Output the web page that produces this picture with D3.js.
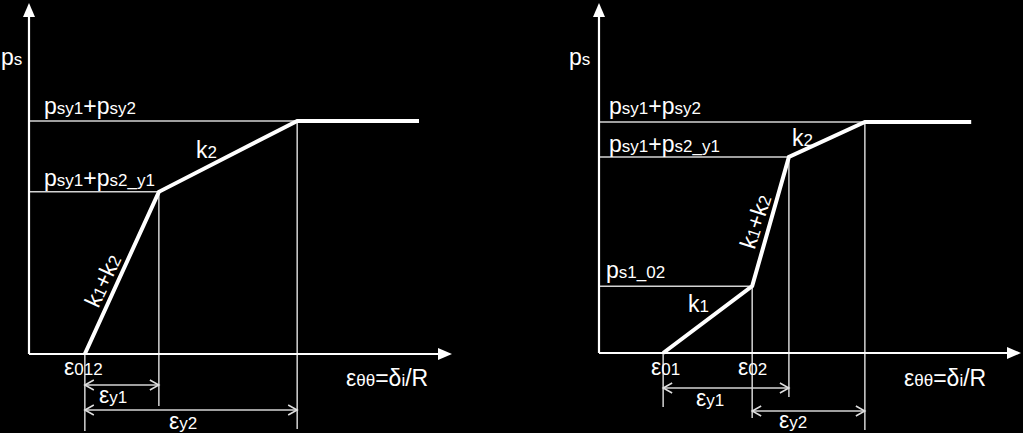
<!DOCTYPE html>
<html>
<head>
<meta charset="utf-8">
<script src="https://cdn.jsdelivr.net/npm/d3@7"></script>
<style>
  html, body { margin: 0; padding: 0; background: #000; }
  svg { display: block; }
  text { fill: #fff; font-family: "Liberation Sans", Arial, sans-serif; }
</style>
</head>
<body>
<svg width="1023" height="433"></svg>
<script>
// strain / stress points of each panel (units: % of axis length)
var leftStrain  = [13.2, 30.7, 63.4, 92.2];
var leftStress  = [0, 46.2, 66.4, 66.4];
var rightStrain = [15.2, 36.3, 45.0, 63.0, 88.2];
var rightStress = [0, 19.1, 56.0, 66.0, 66.0];

// labels, split in [text, isSubscript] pieces
var lblPs     = [["p",0],["s",1]];
var lblTop    = [["p",0],["sy1",1],["+",0],["p",0],["sy2",1]];
var lblMid    = [["p",0],["sy1",1],["+",0],["p",0],["s2_y1",1]];
var lblP102   = [["p",0],["s1_02",1]];
var lblK1     = [["k",0],["1",1]];
var lblK2     = [["k",0],["2",1]];
var lblK12    = [["k",0],["1",1],["+",0],["k",0],["2",1]];
var lblE012   = [["ε",0],["012",1]];
var lblE01    = [["ε",0],["01",1]];
var lblE02    = [["ε",0],["02",1]];
var lblEy1    = [["ε",0],["y1",1]];
var lblEy2    = [["ε",0],["y2",1]];
var lblXAxis  = [["ε",0],["θθ",1],["=δ",0],["i",1],["/R",0]];

var svg = d3.select("svg");

function label(g, parts, x, y, rot) {
  var t = g.append("text").attr("x", x).attr("y", y);
  if (rot) t.attr("transform", "rotate(" + rot + "," + x + "," + y + ")")
            .attr("text-anchor", "middle");
  parts.forEach(function(p) {
    t.append("tspan").attr("font-size", p[1] ? 17 : 23).text(p[0]);
  });
}

function thin(g, x1, y1, x2, y2) {
  g.append("line").attr("x1", x1).attr("y1", y1).attr("x2", x2).attr("y2", y2)
    .attr("stroke", "#d4d4d4").attr("stroke-width", 1.5);
}

function dimArrow(g, x1, x2, y) {
  thin(g, x1, y, x2, y);
  g.append("path")
    .attr("d", "M" + (x1 + 9) + "," + (y - 5) + "L" + x1 + "," + y + "L" + (x1 + 9) + "," + (y + 5) +
               "M" + (x2 - 9) + "," + (y - 5) + "L" + x2 + "," + y + "L" + (x2 - 9) + "," + (y + 5))
    .attr("fill", "none").attr("stroke", "#e0e0e0").attr("stroke-width", 1.5);
}

function axes(g, x, y) {
  var x0 = x(0), y0 = y(0), xe = x(100), ye = y(100);
  g.append("line").attr("x1", x0).attr("y1", y0).attr("x2", x0).attr("y2", ye + 12)
    .attr("stroke", "#fff").attr("stroke-width", 2.2);
  g.append("line").attr("x1", x0).attr("y1", y0).attr("x2", xe - 12).attr("y2", y0)
    .attr("stroke", "#fff").attr("stroke-width", 2.2);
  g.append("path").attr("fill", "#fff")
    .attr("d", "M" + x0 + "," + ye + "L" + (x0 - 6) + "," + (ye + 14) + "L" + (x0 + 6) + "," + (ye + 14) + "Z");
  g.append("path").attr("fill", "#fff")
    .attr("d", "M" + xe + "," + y0 + "L" + (xe - 14) + "," + (y0 - 6) + "L" + (xe - 14) + "," + (y0 + 6) + "Z");
}

var curve = d3.line().x(function(d) { return d[0]; }).y(function(d) { return d[1]; });

// ---------- left panel ----------
var gl = svg.append("g");
var xl = d3.scaleLinear().domain([0, 100]).range([29, 452]);
var yl = d3.scaleLinear().domain([0, 100]).range([354, 3]);

thin(gl, xl(0), yl(leftStress[2]), xl(leftStrain[2]), yl(leftStress[2]));
thin(gl, xl(0), yl(leftStress[1]), xl(leftStrain[1]), yl(leftStress[1]));
thin(gl, xl(leftStrain[0]), yl(0), xl(leftStrain[0]), 431);
thin(gl, xl(leftStrain[1]), yl(leftStress[1]), xl(leftStrain[1]), 406);
thin(gl, xl(leftStrain[2]), yl(leftStress[2]), xl(leftStrain[2]), 429);
dimArrow(gl, xl(leftStrain[0]), xl(leftStrain[1]), 385);
dimArrow(gl, xl(leftStrain[0]), xl(leftStrain[2]), 410);
axes(gl, xl, yl);

gl.append("path")
  .attr("d", curve(leftStrain.map(function(s, i) { return [xl(s), yl(leftStress[i])]; })))
  .attr("fill", "none").attr("stroke", "#fff").attr("stroke-width", 4).attr("stroke-linejoin", "miter");

label(gl, lblPs, 1, 65);
label(gl, lblTop, 44, yl(leftStress[2]) - 7);
label(gl, lblMid, 44, yl(leftStress[1]) - 6);
label(gl, lblK2, 196, 158);
label(gl, lblK12, 110, 284, -65);
label(gl, lblE012, 64, 375);
label(gl, lblEy1, 99, 403);
label(gl, lblEy2, 169, 429);
label(gl, lblXAxis, 346, 386);

// ---------- right panel ----------
var gr = svg.append("g");
var xr = d3.scaleLinear().domain([0, 100]).range([599, 1021]);
var yr = d3.scaleLinear().domain([0, 100]).range([353, 3]);

thin(gr, xr(0), yr(rightStress[3]), xr(rightStrain[3]), yr(rightStress[3]));
thin(gr, xr(0), yr(rightStress[2]), xr(rightStrain[2]), yr(rightStress[2]));
thin(gr, xr(0), yr(rightStress[1]), xr(rightStrain[1]), yr(rightStress[1]));
thin(gr, xr(rightStrain[0]), yr(0), xr(rightStrain[0]), 407);
thin(gr, xr(rightStrain[1]), yr(rightStress[1]), xr(rightStrain[1]), 418);
thin(gr, xr(rightStrain[2]), yr(rightStress[2]), xr(rightStrain[2]), 397);
thin(gr, xr(rightStrain[3]), yr(rightStress[3]), xr(rightStrain[3]), 430);
dimArrow(gr, xr(rightStrain[0]), xr(rightStrain[2]), 388);
dimArrow(gr, xr(rightStrain[1]), xr(rightStrain[3]), 411);
axes(gr, xr, yr);

gr.append("path")
  .attr("d", curve(rightStrain.map(function(s, i) { return [xr(s), yr(rightStress[i])]; })))
  .attr("fill", "none").attr("stroke", "#fff").attr("stroke-width", 4).attr("stroke-linejoin", "miter");

label(gr, lblPs, 569, 65);
label(gr, lblTop, 609, yr(rightStress[3]) - 8);
label(gr, lblMid, 609, yr(rightStress[2]) - 5);
label(gr, lblP102, 606, yr(rightStress[1]) - 8);
label(gr, lblK1, 688, 312);
label(gr, lblK2, 792, 146);
label(gr, lblK12, 763, 224, -72);
label(gr, lblE01, 651, 375);
label(gr, lblE02, 738, 375);
label(gr, lblEy1, 696, 406);
label(gr, lblEy2, 779, 428);
label(gr, lblXAxis, 904, 386);
</script>
</body>
</html>
